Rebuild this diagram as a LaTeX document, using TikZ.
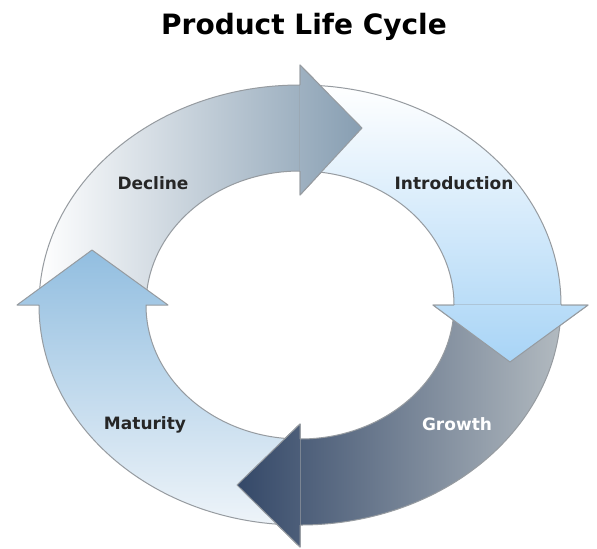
\documentclass[tikz,border=0pt]{standalone}
\usepackage{fontspec}
\setmainfont{DejaVu Sans}
\definecolor{ringline}{RGB}{150,155,160}
\definecolor{declinegrey}{RGB}{135,158,178}
\definecolor{introblue}{RGB}{168,212,246}
\definecolor{growthdark}{RGB}{52,72,104}
\definecolor{growthlight}{RGB}{178,186,192}
\definecolor{maturityblue}{RGB}{146,190,224}
\definecolor{maturitypale}{RGB}{238,244,249}
\usetikzlibrary{positioning,calc}

% arrow outlines, one per stage (ring centre at (300,243))
\newcommand{\declinepath}{(39,243) arc[start angle=180, end angle=90, x radius=261, y radius=220] -- (300,483) -- (362,420) -- (300,353) -- (300,377) arc[start angle=90, end angle=180, x radius=154, y radius=134] -- cycle}
\newcommand{\intropath}{(300,463) arc[start angle=90, end angle=0, x radius=261, y radius=220] -- (588,243) -- (510,186) -- (433,243) -- (454,243) arc[start angle=0, end angle=90, x radius=154, y radius=134] -- cycle}
\newcommand{\growthpath}{(561,243) arc[start angle=0, end angle=-90, x radius=261, y radius=220] -- (300,1) -- (237,63) -- (300,124) -- (300,109) arc[start angle=-90, end angle=0, x radius=154, y radius=134] -- cycle}
\newcommand{\maturitypath}{(300,23) arc[start angle=-90, end angle=-180, x radius=261, y radius=220] -- (17,243) -- (92,298) -- (168,243) -- (146,243) arc[start angle=-180, end angle=-90, x radius=154, y radius=134] -- cycle}

\tikzset{
    ring/.style={draw=ringline, line width=0.5pt, line join=round},
    declineshade/.style={left color=white, right color=declinegrey},
    introshade/.style={top color=white, bottom color=introblue},
    growthshade/.style={left color=growthdark, right color=growthlight},
    maturityshade/.style={top color=maturityblue, bottom color=maturitypale},
    stagelabel/.style={font=\bfseries\fontsize{8.5}{10}\selectfont, text=black!85},
}

\begin{document}
\begin{tikzpicture}[x=0.5pt, y=0.5pt]
    \useasboundingbox[fill=white] (0,0) rectangle (597,548);

    \node[font=\bfseries\fontsize{14}{16}\selectfont, anchor=base] (title) at (304,514) {Product Life Cycle};

    % the four stages
    \shade[ring, declineshade] \declinepath;
    \shade[ring, introshade] \intropath;
    \shade[ring, growthshade] \growthpath;
    \shade[ring, maturityshade] \maturitypath;

    % heads lie on top of the next band
    \begin{scope}
        \clip (300,483) -- (362,420) -- (300,353) -- cycle;
        \shade[declineshade] \declinepath;
    \end{scope}
    \draw[ring] (300,463) -- (300,483) -- (362,420) -- (300,353) -- (300,377);
    \begin{scope}
        \clip (588,243) -- (510,186) -- (433,243) -- cycle;
        \shade[introshade] \intropath;
    \end{scope}
    \draw[ring] (561,243) -- (588,243) -- (510,186) -- (433,243) -- (454,243);
    \begin{scope}
        \clip (300,1) -- (237,63) -- (300,124) -- cycle;
        \shade[growthshade] \growthpath;
    \end{scope}
    \draw[ring] (300,23) -- (300,1) -- (237,63) -- (300,124) -- (300,109);

    \node[stagelabel] (decline) at (153,365) {Decline};
    \node[stagelabel] (intro) at (454,365) {Introduction};
    \node[stagelabel, text=white] (growth) at (457,124) {Growth};
    \node[stagelabel] (maturity) at (145,123) {Maturity};
\end{tikzpicture}
\end{document}
